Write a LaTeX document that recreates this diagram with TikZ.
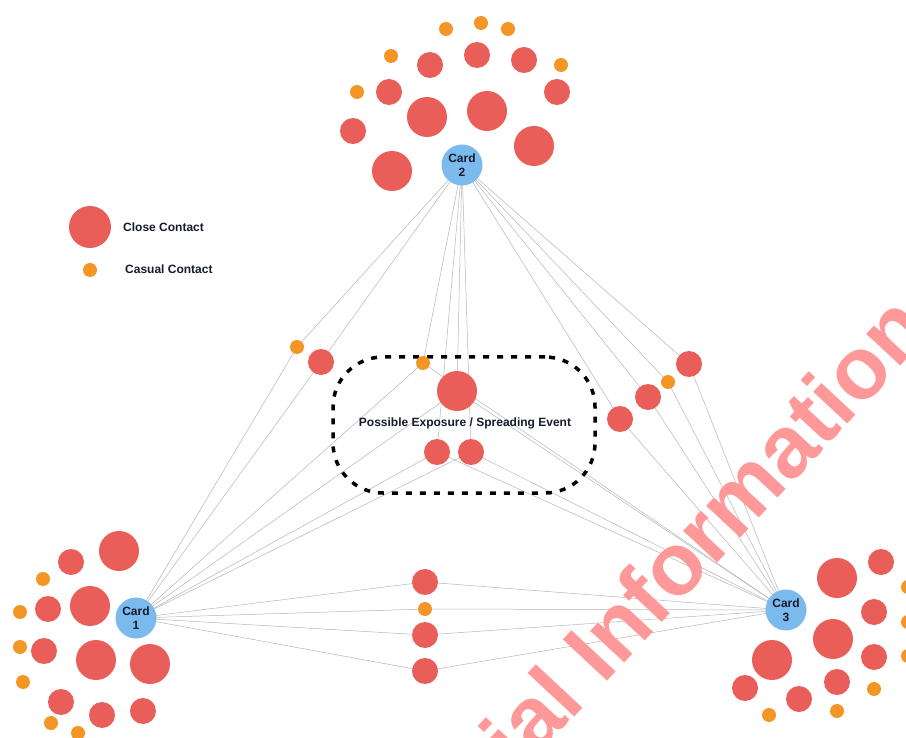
\documentclass[tikz,border=0pt]{standalone}
\usepackage{fontspec}
\setmainfont{Liberation Sans}
\usetikzlibrary{backgrounds}
\definecolor{cred}{RGB}{233,94,88}
\definecolor{corange}{RGB}{244,150,38}
\definecolor{cblue}{RGB}{122,186,236}
\definecolor{ctext}{RGB}{22,28,45}
\definecolor{cedge}{RGB}{182,182,182}
\definecolor{cwater}{RGB}{255,152,152}
\begin{document}
\begin{tikzpicture}[x=1pt,y=-1pt,
  blob/.style={circle,inner sep=0pt,draw=none},
  bigc/.style={blob,fill=cred,minimum size=40pt},
  medc/.style={blob,fill=cred,minimum size=26pt},
  casc/.style={blob,fill=corange,minimum size=14pt},
  card/.style={blob,fill=cblue,minimum size=41pt,font=\fontsize{12}{13.5}\selectfont\bfseries,text=ctext,align=center},
  link/.style={draw=cedge,line width=0.5pt},
  lbl/.style={font=\fontsize{12}{14}\selectfont\bfseries,text=ctext,inner sep=0pt},
  eventbox/.style={draw=black,line width=3.5pt,dash pattern=on 6pt off 8pt,rounded corners=50pt,inner sep=0pt},
  water/.style={font=\fontsize{88}{88}\selectfont\bfseries,text=cwater,inner sep=0pt,rotate=47,anchor=base west}]
\useasboundingbox (0,0) rectangle (906,738);

% cards
\node[card] (c2) at (462,165) {Card\\2};
\node[card] (c1) at (136,618) {Card\\1};
\node[card] (c3) at (786,610) {Card\\3};

% top cluster
\foreach \x/\y [count=\i] in {446/29,481/23,508/29,391/56,561/65,357/92}
  \node[casc] (to\i) at (\x,\y) {};
\foreach \x/\y [count=\i] in {430/65,477/55,524/60,389/92,557/92,353/131}
  \node[medc] (tm\i) at (\x,\y) {};
\foreach \x/\y [count=\i] in {427/117,487/111,534/146,392/171}
  \node[bigc] (tb\i) at (\x,\y) {};

% bottom-left cluster
\foreach \x/\y [count=\i] in {119/551,90/606,96/660,150/664}
  \node[bigc] (lb\i) at (\x,\y) {};
\foreach \x/\y [count=\i] in {71/562,48/609,44/651,61/702,102/715,143/711}
  \node[medc] (lm\i) at (\x,\y) {};
\foreach \x/\y [count=\i] in {43/579,20/612,20/647,23/682,51/723,78/733}
  \node[casc] (lo\i) at (\x,\y) {};

% bottom-right cluster
\foreach \x/\y [count=\i] in {837/578,833/639,772/660}
  \node[bigc] (rb\i) at (\x,\y) {};
\foreach \x/\y [count=\i] in {881/562,874/612,874/657,837/682,745/688,799/699}
  \node[medc] (rm\i) at (\x,\y) {};
\foreach \x/\y [count=\i] in {769/715,837/711,874/689,908/587,908/622,908/656}
  \node[casc] (ro\i) at (\x,\y) {};

% legend
\node[blob,fill=cred,minimum size=42pt] (legc) at (90,227) {};
\node[casc] (legs) at (90,270) {};
\node[lbl,anchor=west] (legct) at (123,227) {Close Contact};
\node[lbl,anchor=west] (legst) at (125,269) {Casual Contact};

% left pair between card 1 and card 2
\node[casc] (lo) at (297,347) {};
\node[medc] (lr) at (321,362) {};

% event group
\node[eventbox,minimum width=262pt,minimum height=136pt] (ev) at (464,425) {};
\node[casc] (mo) at (423,363) {};
\node[bigc] (mb) at (457,391) {};
\node[medc] (ms1) at (437,452) {};
\node[medc] (ms2) at (471,452) {};
\node[lbl] (evt) at (465,423) {Possible Exposure / Spreading Event};

% right group between card 2 and card 3
\node[medc] (r1) at (689,364) {};
\node[casc] (r2) at (668,382) {};
\node[medc] (r3) at (648,397) {};
\node[medc] (r4) at (620,419) {};

% bottom middle between card 1 and card 3
\node[medc] (b1) at (425,582) {};
\node[casc] (b2) at (425,609) {};
\node[medc] (b3) at (425,635) {};
\node[medc] (b4) at (425,671) {};

% connectors
\begin{scope}[on background layer]
\fill[white] (0,0) rectangle (906,738);
\foreach \n in {lo,lr,mo,mb,ms1,ms2,r1,r2,r3,r4}
  \draw[link] (c2.center) -- (\n.center);
\foreach \n in {lo,lr,mo,mb,ms1,ms2,b1,b2,b3,b4}
  \draw[link] (c1.center) -- (\n.center);
\foreach \n in {r1,r2,r3,r4,mo,mb,ms1,ms2,b1,b2,b3,b4}
  \draw[link] (c3.center) -- (\n.center);
\end{scope}

% watermark
\node[water] (wm) at (520,775) {ial Information};
\end{tikzpicture}
\end{document}
